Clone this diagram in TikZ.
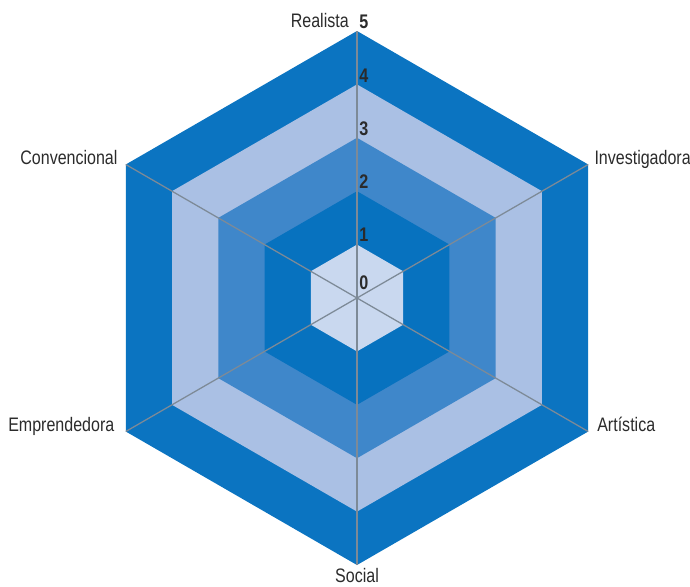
\documentclass[tikz,border=0pt]{standalone}
\usepackage{fontspec}
\setmainfont{Liberation Sans}[FakeStretch=0.82]
\usetikzlibrary{positioning}
\definecolor{ringfive}{HTML}{0B74C1}
\definecolor{ringfour}{HTML}{AAC0E4}
\definecolor{ringthree}{HTML}{3F87CA}
\definecolor{ringtwo}{HTML}{0772BF}
\definecolor{ringone}{HTML}{C9D8EF}
\definecolor{spokegray}{HTML}{7D8A97}
\definecolor{labelgray}{HTML}{2B2B2B}
\newcommand{\unitr}{1.335}
\newcommand{\spoke}{0.9pt}

\begin{document}
\begin{tikzpicture}[font=\fontsize{13.9}{16}\selectfont, text=labelgray]
\useasboundingbox (-8.925,7.45) rectangle (8.325,-7.2);
\coordinate (0) at (0,0);
\coordinate (R) at (90:{5*\unitr});
\coordinate (I) at (30:{5*\unitr});
\coordinate (A) at (-30:{5*\unitr});
\coordinate (S) at (-90:{5*\unitr});
\coordinate (E) at (-150:{5*\unitr});
\coordinate (C) at (150:{5*\unitr});
%rings
\fill[ringfive] (90:{5*\unitr}) -- (30:{5*\unitr}) -- (-30:{5*\unitr}) -- (-90:{5*\unitr}) -- (-150:{5*\unitr}) -- (150:{5*\unitr}) -- cycle;
\fill[ringfour] (90:{4*\unitr}) -- (30:{4*\unitr}) -- (-30:{4*\unitr}) -- (-90:{4*\unitr}) -- (-150:{4*\unitr}) -- (150:{4*\unitr}) -- cycle;
\fill[ringthree] (90:{3*\unitr}) -- (30:{3*\unitr}) -- (-30:{3*\unitr}) -- (-90:{3*\unitr}) -- (-150:{3*\unitr}) -- (150:{3*\unitr}) -- cycle;
\fill[ringtwo] (90:{2*\unitr}) -- (30:{2*\unitr}) -- (-30:{2*\unitr}) -- (-90:{2*\unitr}) -- (-150:{2*\unitr}) -- (150:{2*\unitr}) -- cycle;
\fill[ringone] (90:{1*\unitr}) -- (30:{1*\unitr}) -- (-30:{1*\unitr}) -- (-90:{1*\unitr}) -- (-150:{1*\unitr}) -- (150:{1*\unitr}) -- cycle;
%spokes
\draw[spokegray] [line width = \spoke] (0) -- (R);
\draw[spokegray] [line width = \spoke] (0) -- (I);
\draw[spokegray] [line width = \spoke] (0) -- (A);
\draw[spokegray] [line width = \spoke] (0) -- (S);
\draw[spokegray] [line width = \spoke] (0) -- (E);
\draw[spokegray] [line width = \spoke] (0) -- (C);
%labels
\node[anchor=base east, inner sep=0] (realista) at ([xshift=-0.2cm, yshift=0.1cm]R) {Realista};
\node[anchor=base west, inner sep=0] (investigadora) at ([xshift=0.15cm]I) {Investigadora};
\node[anchor=base west, inner sep=0] (artistica) at ([xshift=0.22cm]A) {Artística};
\node[anchor=north, inner sep=0] (social) at ([yshift=-0.08cm]S) {Social};
\node[anchor=base east, inner sep=0] (emprendedora) at ([xshift=-0.28cm]E) {Emprendedora};
\node[anchor=base east, inner sep=0] (convencional) at ([xshift=-0.2cm]C) {Convencional};
%scale
\node[anchor=base west, inner sep=0, font=\fontsize{14}{16}\bfseries] (five) at ([xshift=0.05cm, yshift=0.07cm]90:{5*\unitr}) {5};
\node[anchor=base west, inner sep=0, font=\fontsize{14}{16}\bfseries] (four) at ([xshift=0.05cm, yshift=0.04cm]90:{4*\unitr}) {4};
\node[anchor=base west, inner sep=0, font=\fontsize{14}{16}\bfseries] (three) at ([xshift=0.05cm, yshift=0.06cm]90:{3*\unitr}) {3};
\node[anchor=base west, inner sep=0, font=\fontsize{14}{16}\bfseries] (two) at ([xshift=0.05cm, yshift=0.06cm]90:{2*\unitr}) {2};
\node[anchor=base west, inner sep=0, font=\fontsize{14}{16}\bfseries] (one) at ([xshift=0.05cm, yshift=0.09cm]90:{1*\unitr}) {1};
\node[anchor=base west, inner sep=0, font=\fontsize{14}{16}\bfseries] (zero) at ([xshift=0.05cm, yshift=0.22cm]0) {0};
\end{tikzpicture}
\end{document}
